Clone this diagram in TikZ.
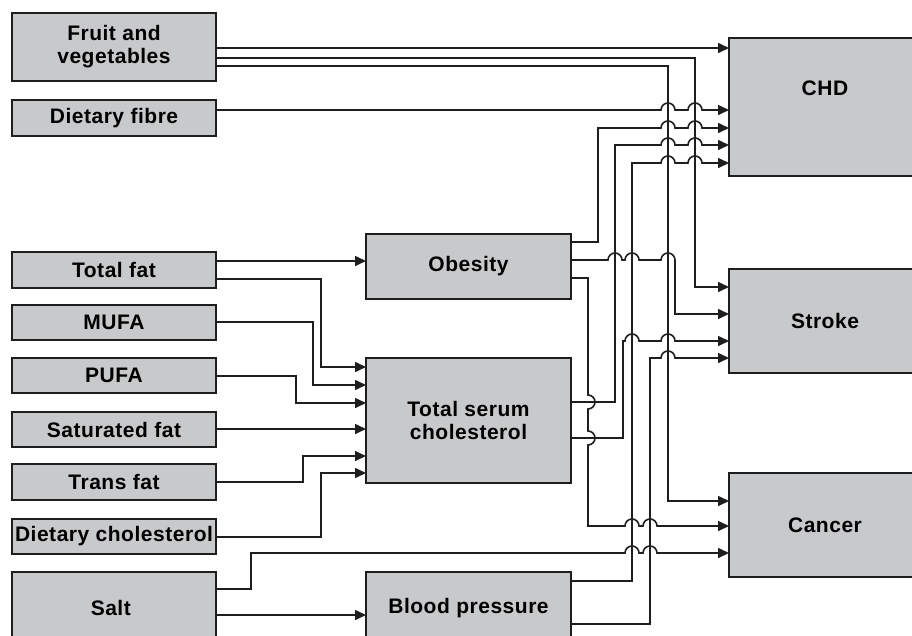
\documentclass[tikz,border=0pt]{standalone}
\usepackage{fontspec}
\setmainfont{Liberation Sans}[LetterSpace=2.5]
\usetikzlibrary{arrows.meta}

\definecolor{boxgray}{RGB}{200,201,203}
\definecolor{inkgray}{RGB}{30,30,30}

\tikzset{
  box/.style={draw=inkgray, line width=1.9pt, fill=boxgray, align=center,
    inner sep=0pt, outer sep=0pt, font=\fontsize{21}{23}\selectfont\bfseries},
  boxtext/.style={font=\fontsize{21}{23}\selectfont\bfseries},
  link/.style={draw=inkgray, line width=1.6pt, -{Triangle[length=11pt,width=10pt]}}
}

% bridge over a vertical wire / a horizontal wire
\newcommand{\jumpover}[2]{-- (#1-7,#2) arc (180:0:7)}
\newcommand{\jumpdown}[2]{-- (#1,#2+7) arc (90:-90:7)}

\begin{document}
\begin{tikzpicture}[x=1pt,y=1pt]

\path[use as bounding box, clip] (0,0) rectangle (912,-635);

% Inputs
\foreach \nm/\y/\h/\txt in {
fruit/47/68/{Fruit and\\vegetables},
fibre/118/36/{Dietary fibre},
totfat/270/36/{Total fat},
mufa/322.5/35/{MUFA},
pufa/375.5/35/{PUFA},
satfat/429.5/35/{Saturated fat},
transfat/482/36/{Trans fat},
dietchol/536.5/35/{Dietary cholesterol},
salt/608/72/{Salt}
}
{
    \node[box, minimum width=204pt, minimum height=\h pt] (\nm) at (114,-\y) {\txt};
}

% Risk factors
\node[box, minimum width=205pt, minimum height=65pt] (obesity) at (468.5,-266.5) {Obesity};
\node[box, minimum width=205pt, minimum height=125pt] (tsc) at (468.5,-420.5) {Total serum\\cholesterol};
\node[box, minimum width=205pt, minimum height=72pt] (bp) at (468.5,-608) {Blood pressure};

% Outcomes
\node[box, minimum width=192pt, minimum height=138pt] (chd) at (825,-107) {};
\node[boxtext] (chdtext) at (825,-88) {CHD};
\node[box, minimum width=192pt, minimum height=104pt] (stroke) at (825,-321) {Stroke};
\node[box, minimum width=192pt, minimum height=104pt] (cancer) at (825,-525) {Cancer};

% Into obesity and cholesterol
\draw[link] (totfat.east |- 0,-261) -- (obesity.west |- 0,-261);
\draw[link] (totfat.east |- 0,-279) -| (321,-367) -- (tsc.west |- 0,-367);
\draw[link] (mufa.east |- 0,-322) -| (313,-385) -- (tsc.west |- 0,-385);
\draw[link] (pufa.east |- 0,-376) -| (296,-403) -- (tsc.west |- 0,-403);
\draw[link] (satfat.east |- 0,-429) -- (tsc.west |- 0,-429);
\draw[link] (transfat.east |- 0,-482) -| (303,-456) -- (tsc.west |- 0,-456);
\draw[link] (dietchol.east |- 0,-537) -| (321,-473) -- (tsc.west |- 0,-473);
\draw[link] (salt.east |- 0,-615) -- (bp.west |- 0,-615);

% Into CHD
\draw[link] (fruit.east |- 0,-48) -- (chd.west |- 0,-48);
\draw[link] (fibre.east |- 0,-110) \jumpover{668}{-110} \jumpover{695}{-110} -- (chd.west |- 0,-110);
\draw[link] (obesity.east |- 0,-242) -| (598,-128) \jumpover{668}{-128} \jumpover{695}{-128} -- (chd.west |- 0,-128);
\draw[link] (tsc.east |- 0,-402) -| (615,-145) \jumpover{668}{-145} \jumpover{695}{-145} -- (chd.west |- 0,-145);
\draw[link] (bp.east |- 0,-581) -| (632,-163) \jumpover{668}{-163} \jumpover{695}{-163} -- (chd.west |- 0,-163);

% Into stroke
\draw[link] (fruit.east |- 0,-58) -| (695,-287) -- (stroke.west |- 0,-287);
\draw[link] (obesity.east |- 0,-260) \jumpover{615}{-260} \jumpover{632}{-260} \jumpover{668}{-260}
    -- (675,-314) -- (stroke.west |- 0,-314);
\draw[link] (tsc.east |- 0,-438) -| (623,-341) \jumpover{632}{-341} \jumpover{668}{-341} -- (stroke.west |- 0,-341);
\draw[link] (bp.east |- 0,-624) -| (650,-358) \jumpover{668}{-358} -- (stroke.west |- 0,-358);

% Into cancer
\draw[link] (fruit.east |- 0,-66) -| (668,-501) -- (cancer.west |- 0,-501);
\draw[link] (obesity.east |- 0,-278) -- (588,-278) \jumpdown{588}{-402} \jumpdown{588}{-438}
    -- (588,-526) \jumpover{632}{-526} \jumpover{650}{-526} -- (cancer.west |- 0,-526);
\draw[link] (salt.east |- 0,-589) -| (251,-553) \jumpover{632}{-553} \jumpover{650}{-553} -- (cancer.west |- 0,-553);

\end{tikzpicture}
\end{document}
